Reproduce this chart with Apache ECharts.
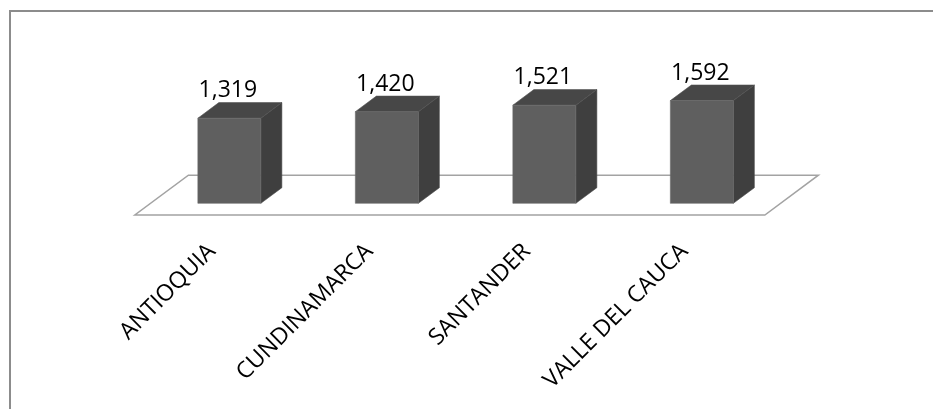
<!DOCTYPE html>
<html>
<head>
<meta charset="utf-8">
<script src="https://cdn.jsdelivr.net/npm/echarts@6/dist/echarts.min.js"></script>
<style>
  html, body { margin: 0; padding: 0; background: #ffffff; }
  #chart { width: 933px; height: 409px; }
</style>
</head>
<body>
<div id="chart"></div>
<script>
// Departments and their totals
const departments = ['ANTIOQUIA', 'CUNDINAMARCA', 'SANTANDER', 'VALLE DEL CAUCA'];
const totals = [1319, 1420, 1521, 1592];
const valueMin = 0;
const valueMax = 2000;

// Oblique projection used for the 3D look
const DEPTH_X = 21;
const DEPTH_Y = 15.6;
const BAR_RATIO = 0.4;
const FLOOR_FRONT = -0.75;
const FLOOR_BACK = 1.8;

const fmt = v => Number(v).toLocaleString('en-US');

function renderFloor(params, api) {
  const cs = params.coordSys;
  const base = cs.y + cs.height;
  const x0 = cs.x, x1 = cs.x + cs.width;
  const f = FLOOR_FRONT, b = FLOOR_BACK;
  return {
    type: 'polygon',
    shape: {
      points: [
        [x0 + f * DEPTH_X, base - f * DEPTH_Y],
        [x1 + f * DEPTH_X, base - f * DEPTH_Y],
        [x1 + b * DEPTH_X, base - b * DEPTH_Y],
        [x0 + b * DEPTH_X, base - b * DEPTH_Y]
      ]
    },
    style: { fill: '#ffffff', stroke: '#a3a3a3', lineWidth: 1.5 }
  };
}

function renderBar(params, api) {
  const top = api.coord([api.value(0), api.value(1)]);
  const bottom = api.coord([api.value(0), 0]);
  const w = api.size([1, 0])[0] * BAR_RATIO;
  const xl = top[0] - w / 2, xr = top[0] + w / 2;
  const yt = top[1], yb = bottom[1];
  const dx = DEPTH_X, dy = DEPTH_Y;
  return {
    type: 'group',
    children: [
      { type: 'polygon',
        shape: { points: [[xr, yb], [xr + dx, yb - dy], [xr + dx, yt - dy], [xr, yt]] },
        style: { fill: '#3f3f3f', stroke: '#4a4a4a', lineWidth: 0.6 } },
      { type: 'polygon',
        shape: { points: [[xl, yt], [xr, yt], [xr + dx, yt - dy], [xl + dx, yt - dy]] },
        style: { fill: '#474747', stroke: '#505050', lineWidth: 0.6 } },
      { type: 'rect',
        shape: { x: xl, y: yt, width: w, height: yb - yt },
        style: { fill: '#5f5f5f', stroke: '#6a6a6a', lineWidth: 0.6 } },
      { type: 'text',
        x: top[0] - 1.5, y: yt - dy - 12,
        style: {
          text: fmt(api.value(1)),
          font: '23px "Open Sans"',
          fill: '#000000',
          align: 'center',
          verticalAlign: 'middle'
        } }
    ]
  };
}

const chart = echarts.init(document.getElementById('chart'), null, { renderer: 'canvas' });

chart.setOption({
  animation: false,
  backgroundColor: '#ffffff',
  graphic: [{
    type: 'rect',
    shape: { x: 10, y: 11, width: 1000, height: 500 },
    style: { fill: 'none', stroke: '#8c8c8c', lineWidth: 2 },
    silent: true
  }],
  grid: { left: 150.6, right: 152.4, top: 74.3, bottom: 205.7, containLabel: false },
  xAxis: {
    type: 'category',
    data: departments,
    axisLine: { show: false },
    axisTick: { show: false },
    axisLabel: {
      rotate: 45,
      margin: 27,
      padding: [0, 24.7, 0, 0],
      fontSize: 23,
      fontFamily: '"Open Sans"',
      color: '#000000',
      interval: 0
    },
    splitLine: { show: false }
  },
  yAxis: {
    type: 'value',
    min: valueMin,
    max: valueMax,
    show: false,
    splitLine: { show: false }
  },
  series: [
    {
      type: 'custom',
      renderItem: renderFloor,
      data: [[0, 0]],
      z: 1,
      silent: true
    },
    {
      type: 'custom',
      renderItem: renderBar,
      data: departments.map((d, i) => [i, totals[i]]),
      encode: { x: 0, y: 1 },
      z: 2
    }
  ]
});
</script>
</body>
</html>
